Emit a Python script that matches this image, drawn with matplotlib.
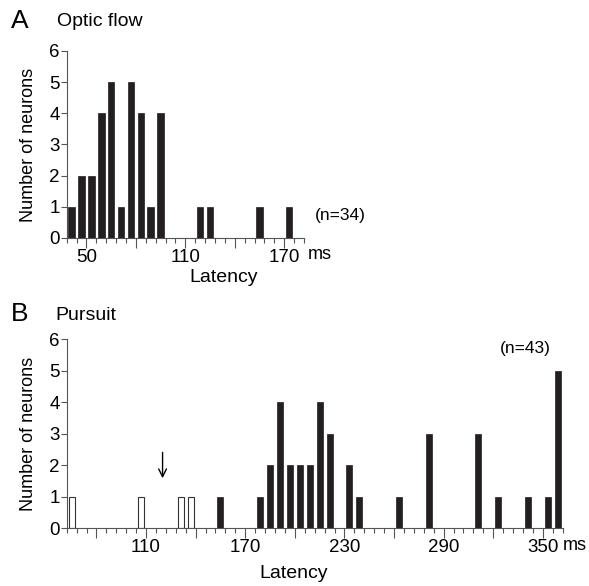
import matplotlib
matplotlib.use("Agg")
import matplotlib.pyplot as plt
from matplotlib.ticker import FixedLocator

plt.rcParams["font.family"] = ["Liberation Sans", "DejaVu Sans"]

# Panel A : optic flow (bins of 6 ms)
optic_lat = [41, 47, 53, 59, 65, 71, 77, 83, 89, 95, 119, 125, 155, 173]
optic_n = [1, 2, 2, 4, 5, 1, 5, 4, 1, 4, 1, 1, 1, 1]

# Panel B : pursuit, open bars (anticipatory) and filled bars
pursuit_open_lat = [65, 107, 131, 137]
pursuit_open_n = [1, 1, 1, 1]
pursuit_lat = [155, 179, 185, 191, 197, 203, 209, 215, 221, 233, 239,
               263, 281, 311, 323, 341, 353, 359]
pursuit_n = [1, 1, 2, 4, 2, 2, 2, 4, 3, 2, 1, 1, 3, 3, 1, 1, 1, 5]

yticks = [0, 1, 2, 3, 4, 5, 6]
a_major = [50, 80, 110, 140, 170]
a_labels = ["50", "", "110", "", "170"]
b_major = [80, 110, 140, 170, 200, 230, 260, 290, 320, 350]
b_labels = ["", "110", "", "170", "", "230", "", "290", "", "350"]

BAR = "#231f20"
AXC = "#555555"


def style_axis(ax, x0, x1, major, labels):
    ax.set_xlim(x0, x1)
    ax.set_ylim(0, 6)
    ax.spines["top"].set_visible(False)
    ax.spines["right"].set_visible(False)
    for s in ("left", "bottom"):
        ax.spines[s].set_color(AXC)
        ax.spines[s].set_linewidth(0.8)
    ax.set_yticks(yticks)
    ax.xaxis.set_major_locator(FixedLocator(major))
    ax.set_xticklabels(labels)
    ax.xaxis.set_minor_locator(FixedLocator(list(range(x0, x1 + 1, 6))))
    ax.tick_params(axis="x", which="major", direction="out", length=7.5,
                   width=0.8, color=AXC, labelsize=13.5, pad=0.5)
    ax.tick_params(axis="x", which="minor", direction="out", length=3.8,
                   width=0.8, color=AXC)
    ax.tick_params(axis="y", direction="out", length=4, width=0.8,
                   color=AXC, labelsize=13.5, pad=1)
    ax.set_ylabel("Number of neurons", fontsize=13, labelpad=9)


fig = plt.figure(figsize=(5.89, 5.86), dpi=100)

# Panel A
axA = fig.add_axes([0.1132, 0.5939, 0.4029, 0.3191])
axA.bar(optic_lat, optic_n, width=4.0, color=BAR, edgecolor=BAR, linewidth=0.5)
style_axis(axA, 38, 182, a_major, a_labels)

# Panel B
axB = fig.add_axes([0.1132, 0.0985, 0.8421, 0.3225])
axB.bar(pursuit_open_lat, pursuit_open_n, width=3.6, color="white",
        edgecolor="#333333", linewidth=0.8)
axB.bar(pursuit_lat, pursuit_n, width=3.6, color=BAR, edgecolor=BAR, linewidth=0.5)
style_axis(axB, 62, 362, b_major, b_labels)
axB.annotate("", xy=(120, 1.5), xytext=(120, 2.5),
             arrowprops=dict(arrowstyle="->", color="black", lw=1.0,
                             mutation_scale=14))


def px(x, y):
    return x / 589, 1 - y / 586


fig.text(*px(11, 21), "A", fontsize=19, va="center", ha="left")
fig.text(*px(57, 21), "Optic flow", fontsize=14, va="center", ha="left")
fig.text(*px(11, 314), "B", fontsize=19, va="center", ha="left")
fig.text(*px(55, 315), "Pursuit", fontsize=14, va="center", ha="left")

fig.text(*px(224, 277), "Latency", fontsize=14, va="center", ha="center")
fig.text(*px(294, 574), "Latency", fontsize=14, va="center", ha="center")
fig.text(*px(308, 255), "ms", fontsize=13, va="center", ha="left")
fig.text(*px(563, 546), "ms", fontsize=13, va="center", ha="left")
fig.text(*px(315, 216), "(n=34)", fontsize=12.5, va="center", ha="left")
fig.text(*px(500, 349), "(n=43)", fontsize=12.5, va="center", ha="left")

fig.savefig("out.png", dpi=100)
